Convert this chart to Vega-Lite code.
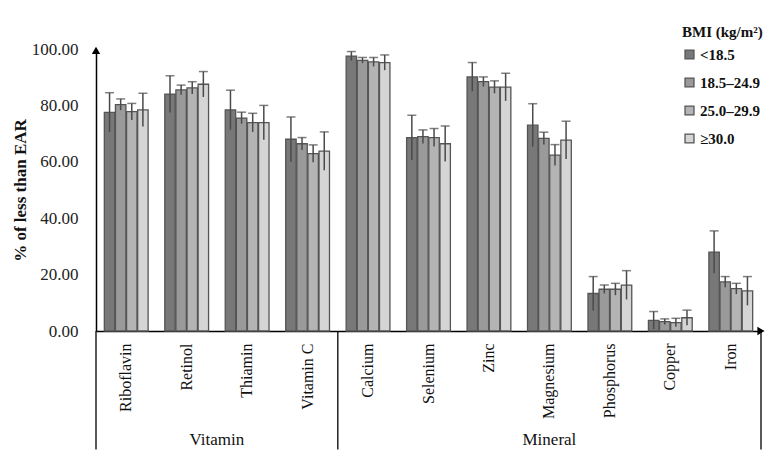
{
  "$schema": "https://vega.github.io/schema/vega-lite/v6.json",
  "width": 665,
  "height": 282,
  "autosize": {"type": "none"},
  "padding": {"left": 96, "top": 49, "right": 19, "bottom": 133},
  "background": "white",
  "config": {
    "font": "Liberation Serif",
    "view": {"stroke": null},
    "axis": {"labelColor": "#111", "titleColor": "#111"}
  },
  "datasets": {
    "bars": [
      {"n": "Riboflavin", "b": "<18.5", "v": 77.5, "lo": 70.5, "hi": 84.5},
      {"n": "Riboflavin", "b": "18.5–24.9", "v": 80.3, "lo": 78.3, "hi": 82.3},
      {"n": "Riboflavin", "b": "25.0–29.9", "v": 77.8, "lo": 74.8, "hi": 80.7},
      {"n": "Riboflavin", "b": "≥30.0", "v": 78.4, "lo": 72.5, "hi": 84.3},
      {"n": "Retinol", "b": "<18.5", "v": 84.0, "lo": 77.5, "hi": 90.5},
      {"n": "Retinol", "b": "18.5–24.9", "v": 85.5, "lo": 83.8, "hi": 87.2},
      {"n": "Retinol", "b": "25.0–29.9", "v": 86.2, "lo": 84.0, "hi": 88.4},
      {"n": "Retinol", "b": "≥30.0", "v": 87.5, "lo": 83.0, "hi": 92.0},
      {"n": "Thiamin", "b": "<18.5", "v": 78.4, "lo": 71.4, "hi": 85.4},
      {"n": "Thiamin", "b": "18.5–24.9", "v": 75.5, "lo": 73.5, "hi": 77.6},
      {"n": "Thiamin", "b": "25.0–29.9", "v": 73.9, "lo": 70.6, "hi": 77.2},
      {"n": "Thiamin", "b": "≥30.0", "v": 73.9, "lo": 67.8, "hi": 80.0},
      {"n": "Vitamin C", "b": "<18.5", "v": 68.0, "lo": 60.0, "hi": 75.9},
      {"n": "Vitamin C", "b": "18.5–24.9", "v": 66.4, "lo": 64.2, "hi": 68.6},
      {"n": "Vitamin C", "b": "25.0–29.9", "v": 62.9, "lo": 59.8, "hi": 66.0},
      {"n": "Vitamin C", "b": "≥30.0", "v": 63.8, "lo": 57.0, "hi": 70.6},
      {"n": "Calcium", "b": "<18.5", "v": 97.5, "lo": 95.9, "hi": 99.1},
      {"n": "Calcium", "b": "18.5–24.9", "v": 96.0, "lo": 95.0, "hi": 97.0},
      {"n": "Calcium", "b": "25.0–29.9", "v": 95.4, "lo": 93.8, "hi": 97.0},
      {"n": "Calcium", "b": "≥30.0", "v": 95.2, "lo": 92.5, "hi": 97.9},
      {"n": "Selenium", "b": "<18.5", "v": 68.6, "lo": 60.6, "hi": 76.5},
      {"n": "Selenium", "b": "18.5–24.9", "v": 68.9, "lo": 66.5, "hi": 71.3},
      {"n": "Selenium", "b": "25.0–29.9", "v": 68.6, "lo": 65.4, "hi": 71.8},
      {"n": "Selenium", "b": "≥30.0", "v": 66.4, "lo": 60.1, "hi": 72.7},
      {"n": "Zinc", "b": "<18.5", "v": 90.1, "lo": 85.0, "hi": 95.2},
      {"n": "Zinc", "b": "18.5–24.9", "v": 88.4, "lo": 86.7, "hi": 90.1},
      {"n": "Zinc", "b": "25.0–29.9", "v": 86.5, "lo": 84.3, "hi": 88.7},
      {"n": "Zinc", "b": "≥30.0", "v": 86.5, "lo": 81.6, "hi": 91.4},
      {"n": "Magnesium", "b": "<18.5", "v": 73.0, "lo": 65.4, "hi": 80.6},
      {"n": "Magnesium", "b": "18.5–24.9", "v": 68.3, "lo": 66.1, "hi": 70.5},
      {"n": "Magnesium", "b": "25.0–29.9", "v": 62.4, "lo": 58.7, "hi": 66.1},
      {"n": "Magnesium", "b": "≥30.0", "v": 67.7, "lo": 61.0, "hi": 74.4},
      {"n": "Phosphorus", "b": "<18.5", "v": 13.3, "lo": 7.3, "hi": 19.3},
      {"n": "Phosphorus", "b": "18.5–24.9", "v": 14.8, "lo": 13.3, "hi": 16.3},
      {"n": "Phosphorus", "b": "25.0–29.9", "v": 14.8, "lo": 12.7, "hi": 16.9},
      {"n": "Phosphorus", "b": "≥30.0", "v": 16.3, "lo": 11.2, "hi": 21.4},
      {"n": "Copper", "b": "<18.5", "v": 3.8, "lo": 0.7, "hi": 6.9},
      {"n": "Copper", "b": "18.5–24.9", "v": 3.3, "lo": 2.3, "hi": 4.3},
      {"n": "Copper", "b": "25.0–29.9", "v": 3.0, "lo": 1.5, "hi": 4.5},
      {"n": "Copper", "b": "≥30.0", "v": 4.7, "lo": 2.0, "hi": 7.4},
      {"n": "Iron", "b": "<18.5", "v": 28.0, "lo": 20.5, "hi": 35.5},
      {"n": "Iron", "b": "18.5–24.9", "v": 17.4, "lo": 15.5, "hi": 19.3},
      {"n": "Iron", "b": "25.0–29.9", "v": 15.0, "lo": 13.1, "hi": 16.9},
      {"n": "Iron", "b": "≥30.0", "v": 14.2, "lo": 9.1, "hi": 19.3}
    ]
  },
  "layer": [
    {
      "data": {"name": "bars"},
      "mark": {"type": "bar", "stroke": "#555555", "strokeWidth": 1.3},
      "encoding": {
        "x": {
          "field": "n", "type": "nominal",
          "scale": {"domain": ["Riboflavin", "Retinol", "Thiamin", "Vitamin C", "Calcium", "Selenium", "Zinc", "Magnesium", "Phosphorus", "Copper", "Iron"], "paddingInner": 0, "paddingOuter": 0},
          "axis": {"title": null, "labelAngle": -90, "labelFontSize": 16, "labelPadding": 12, "ticks": false, "domainColor": "#000", "domainWidth": 1.5, "labelColor": "#111"}
        },
        "xOffset": {
          "field": "b", "type": "nominal",
          "scale": {"domain": ["<18.5", "18.5–24.9", "25.0–29.9", "≥30.0"], "paddingInner": 0.06, "paddingOuter": 0.75}
        },
        "y": {
          "field": "v", "type": "quantitative",
          "scale": {"domain": [0, 100], "nice": false},
          "axis": {"title": "% of less than EAR", "titleFontSize": 17, "titleFontWeight": "bold", "titlePadding": 2, "format": ".2f", "values": [0, 20, 40, 60, 80, 100], "labelFontSize": 17, "labelPadding": 18, "ticks": false, "grid": false, "domainColor": "#000", "domainWidth": 1.5, "labelColor": "#222"}
        },
        "color": {
          "field": "b", "type": "nominal",
          "scale": {"domain": ["<18.5", "18.5–24.9", "25.0–29.9", "≥30.0"], "range": ["#787878", "#9a9a9a", "#b4b4b4", "#d5d5d5"]},
          "legend": {
            "title": "BMI (kg/m²)", "orient": "none", "legendX": 586, "legendY": -24,
            "titleFontSize": 15, "titleFontWeight": "bold", "titlePadding": 7,
            "labelFontSize": 15, "labelFontWeight": "bold", "labelColor": "#111", "titleColor": "#111",
            "symbolType": "square", "symbolSize": 80, "symbolStrokeColor": "#555", "symbolStrokeWidth": 1.3,
            "symbolOpacity": 1, "rowPadding": 12, "labelOffset": 3, "offset": 0
          }
        }
      }
    },
    {
      "data": {"name": "bars"},
      "mark": {"type": "rule", "color": "#4a4a4a", "strokeWidth": 1.5},
      "encoding": {
        "x": {"field": "n", "type": "nominal"},
        "xOffset": {"field": "b", "type": "nominal"},
        "y": {"field": "lo", "type": "quantitative"},
        "y2": {"field": "hi"}
      }
    },
    {
      "data": {"name": "bars"},
      "mark": {"type": "tick", "color": "#4a4a4a", "thickness": 1.5, "size": 9},
      "encoding": {
        "x": {"field": "n", "type": "nominal"},
        "xOffset": {"field": "b", "type": "nominal"},
        "y": {"field": "hi", "type": "quantitative"}
      }
    },
    {
      "data": {"values": [{"n": "Riboflavin"}, {"n": "Calcium"}]},
      "mark": {"type": "rule", "color": "#000", "strokeWidth": 1.3},
      "encoding": {
        "x": {"field": "n", "type": "nominal", "bandPosition": 0},
        "y": {"datum": 0},
        "y2": {"datum": -42}
      }
    },
    {
      "data": {"values": [{"n": "Iron"}]},
      "mark": {"type": "rule", "color": "#000", "strokeWidth": 1.3},
      "encoding": {
        "x": {"field": "n", "type": "nominal", "bandPosition": 1},
        "y": {"datum": 0},
        "y2": {"datum": -42}
      }
    },
    {
      "data": {"values": [{"n": "Thiamin", "g": "Vitamin"}]},
      "mark": {"type": "text", "fontSize": 17, "color": "#111", "baseline": "alphabetic"},
      "encoding": {
        "x": {"field": "n", "type": "nominal", "bandPosition": 0},
        "y": {"datum": -40.3},
        "text": {"field": "g"}
      }
    },
    {
      "data": {"values": [{"n": "Magnesium", "g": "Mineral"}]},
      "mark": {"type": "text", "fontSize": 17, "color": "#111", "baseline": "alphabetic"},
      "encoding": {
        "x": {"field": "n", "type": "nominal"},
        "y": {"datum": -40.3},
        "text": {"field": "g"}
      }
    },
    {
      "data": {"values": [{"n": "Riboflavin"}]},
      "mark": {"type": "point", "shape": "triangle-up", "filled": true, "color": "#000", "size": 70, "opacity": 1},
      "encoding": {
        "x": {"field": "n", "type": "nominal", "bandPosition": 0},
        "y": {"datum": 99.5}
      }
    },
    {
      "data": {"values": [{"n": "Iron"}]},
      "mark": {"type": "point", "shape": "triangle-right", "filled": true, "color": "#000", "size": 70, "opacity": 1},
      "encoding": {
        "x": {"field": "n", "type": "nominal", "bandPosition": 1},
        "y": {"datum": 0}
      }
    }
  ]
}
